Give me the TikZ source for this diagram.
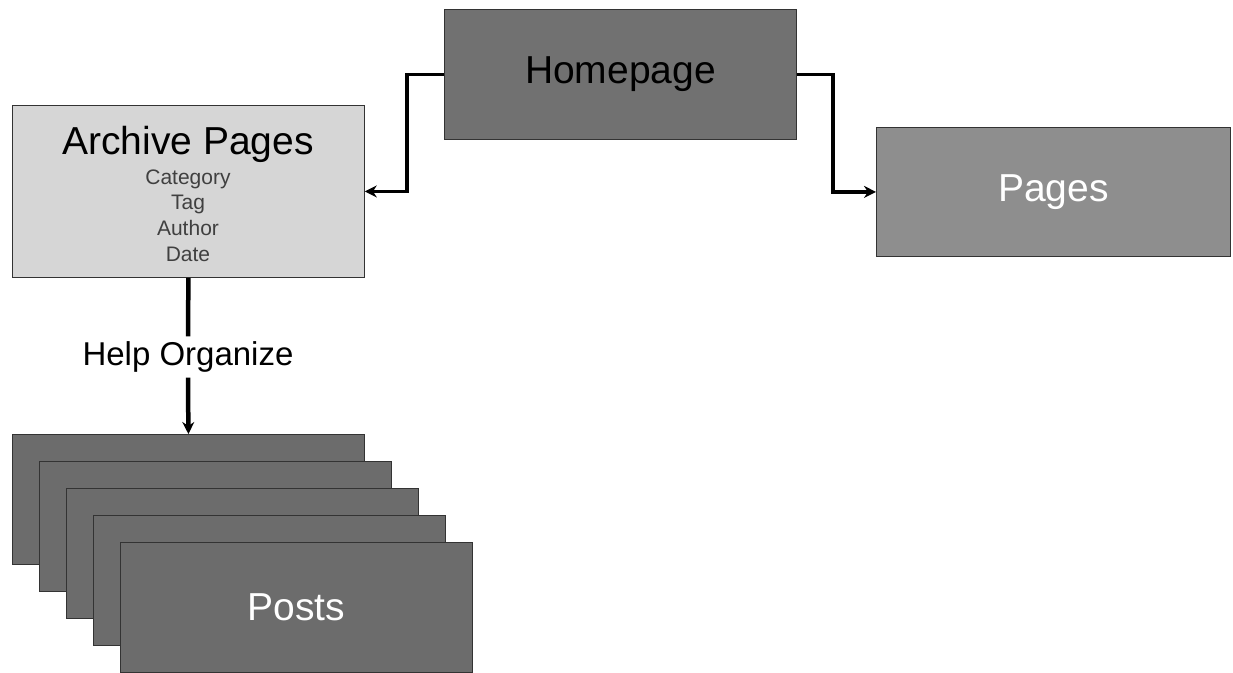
\documentclass[tikz,border=0pt]{standalone}
\usepackage{fontspec}
\setmainfont{Liberation Sans}
\usetikzlibrary{arrows.meta}
\definecolor{hpgrey}{HTML}{717171}
\definecolor{archgrey}{HTML}{D6D6D6}
\definecolor{pagegrey}{HTML}{8E8E8E}
\definecolor{postgrey}{HTML}{6C6C6C}
\tikzset{
  box/.style={draw=black!80, line width=0.8pt, inner sep=0pt, anchor=north west,
    minimum width=352pt, minimum height=130pt},
  bigtext/.style={font=\fontsize{39}{45}\selectfont},
  smalltext/.style={font=\fontsize{21}{25.7}\selectfont, text=black!75},
  link/.style={draw=black, line width=3.5pt, -{Stealth[length=12pt,width=12pt]}},
}
\begin{document}
\begin{tikzpicture}[x=1pt,y=-1pt]
\useasboundingbox (0,0) rectangle (1233,672);

% top level pages
\node[box, fill=hpgrey, bigtext] (hp) at (444,9) {Homepage};
\node[box, fill=pagegrey, bigtext, text=white, minimum width=354pt, minimum height=129pt] (pg) at (876,127) {Pages};

% archive block
\node[box, fill=archgrey, minimum height=172pt] (arch) at (12,105) {};
\node[bigtext] (archtitle) at (188,144) {Archive Pages};
\node[smalltext, align=center, anchor=north] (archlist) at (188,166) {Category\\Tag\\Author\\Date};

% stack of posts, back to front
\node[box, fill=postgrey] (post1) at (12,434) {};
\node[box, fill=postgrey] (post2) at (39,461) {};
\node[box, fill=postgrey] (post3) at (66,488) {};
\node[box, fill=postgrey] (post4) at (93,515) {};
\node[box, fill=postgrey, bigtext, text=white] (post5) at (120,542) {Posts};

\node[font=\fontsize{33}{38}\selectfont, inner sep=5pt] (help) at (188,357) {Help Organize};

% connectors
\draw[link] (hp.west) -- ++(-37,0) |- (arch.east);
\draw[link] (hp.east) -- ++(36,0) |- (pg.west);
\draw[line width=4.5pt, black] (arch.south) -- (help.north);
\draw[link, line width=4.5pt] (help.south) -- (post1.north);
\end{tikzpicture}
\end{document}
